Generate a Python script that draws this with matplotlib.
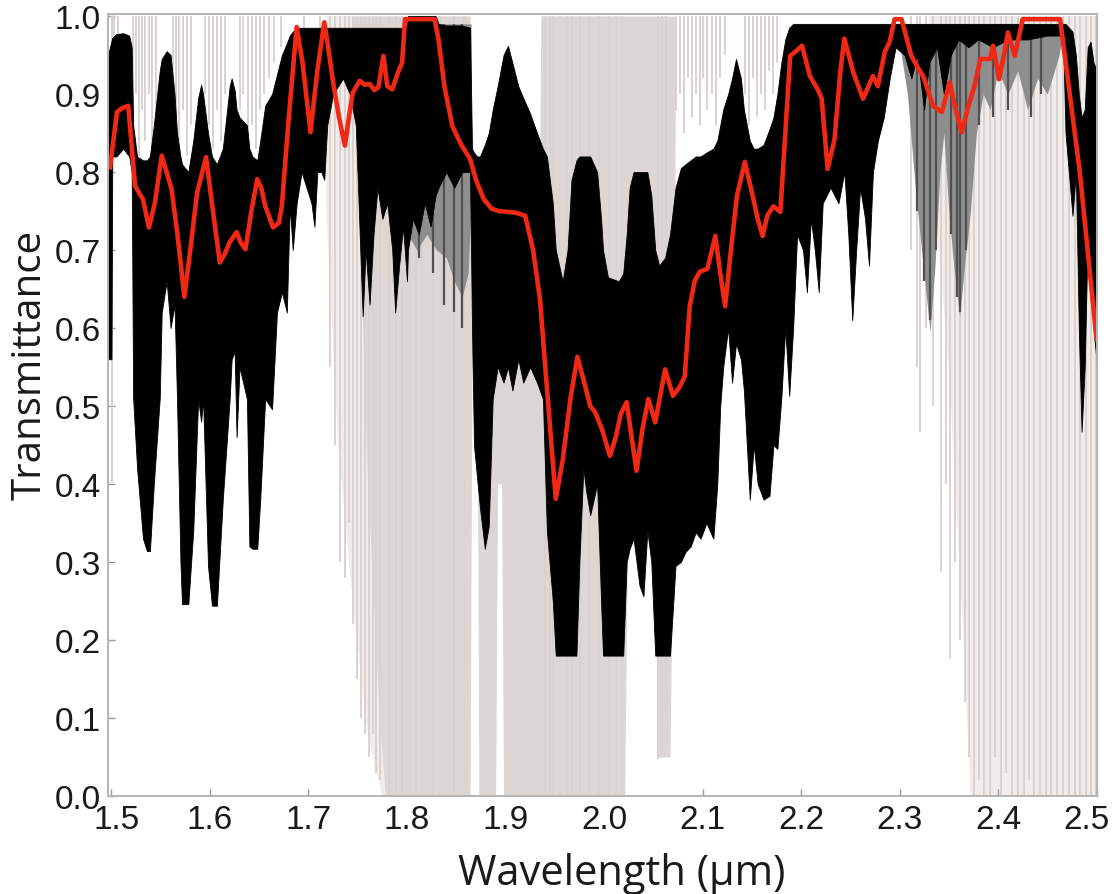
import numpy as np
import matplotlib
matplotlib.use("Agg")
import matplotlib.pyplot as plt
import matplotlib.transforms as mtransforms

# ---- red smoothed curve ----
red_wl = [1.4985, 1.5056, 1.511, 1.517, 1.524, 1.532, 1.538, 1.544, 1.551, 1.556,
          1.561, 1.567, 1.574, 1.580, 1.587, 1.596, 1.603, 1.610, 1.615, 1.620,
          1.627, 1.631, 1.636, 1.642, 1.648, 1.652, 1.656, 1.664, 1.670, 1.673,
          1.680, 1.688, 1.694, 1.702, 1.709, 1.716, 1.720, 1.725, 1.731, 1.737,
          1.741, 1.745, 1.752, 1.757, 1.762, 1.767, 1.771, 1.776, 1.780, 1.785,
          1.791, 1.795, 1.798, 1.828, 1.832, 1.838, 1.846, 1.855, 1.864, 1.870,
          1.878, 1.886, 1.893, 1.901, 1.910, 1.920, 1.928, 1.935, 1.941, 1.947,
          1.951, 1.958, 1.966, 1.973, 1.980, 1.986, 1.991, 1.998, 2.006, 2.012,
          2.017, 2.023, 2.028, 2.033, 2.039, 2.045, 2.052, 2.058, 2.062, 2.070,
          2.077, 2.082, 2.087, 2.092, 2.097, 2.105, 2.113, 2.118, 2.123, 2.128,
          2.135, 2.143, 2.151, 2.156, 2.161, 2.166, 2.172, 2.179, 2.184, 2.189,
          2.195, 2.201, 2.209, 2.217, 2.221, 2.227, 2.234, 2.240, 2.244, 2.253,
          2.263, 2.273, 2.278, 2.285, 2.290, 2.295, 2.302, 2.312, 2.318, 2.324,
          2.334, 2.343, 2.351, 2.357, 2.363, 2.370, 2.376, 2.382, 2.392, 2.395,
          2.401, 2.406, 2.410, 2.417, 2.425, 2.463, 2.476, 2.483, 2.500]
red_t = [0.806, 0.877, 0.882, 0.885, 0.782, 0.765, 0.729, 0.760, 0.821, 0.800,
         0.778, 0.720, 0.640, 0.700, 0.774, 0.819, 0.750, 0.684, 0.695, 0.710,
         0.723, 0.710, 0.701, 0.750, 0.791, 0.780, 0.757, 0.729, 0.735, 0.757,
         0.870, 0.986, 0.940, 0.851, 0.930, 0.992, 0.960, 0.915, 0.870, 0.834,
         0.870, 0.902, 0.917, 0.912, 0.913, 0.905, 0.909, 0.949, 0.910, 0.906,
         0.928, 0.940, 0.996, 0.996, 0.970, 0.910, 0.859, 0.835, 0.817, 0.790,
         0.765, 0.753, 0.750, 0.749, 0.748, 0.744, 0.700, 0.637, 0.540, 0.445,
         0.381, 0.430, 0.510, 0.563, 0.530, 0.500, 0.492, 0.470, 0.436, 0.460,
         0.490, 0.505, 0.460, 0.417, 0.470, 0.509, 0.479, 0.520, 0.547, 0.513,
         0.525, 0.538, 0.628, 0.660, 0.672, 0.676, 0.718, 0.670, 0.628, 0.690,
         0.770, 0.813, 0.769, 0.740, 0.718, 0.745, 0.756, 0.749, 0.850, 0.949,
         0.955, 0.962, 0.923, 0.906, 0.894, 0.804, 0.842, 0.930, 0.971, 0.928,
         0.894, 0.923, 0.910, 0.954, 0.967, 0.996, 0.996, 0.949, 0.935, 0.923,
         0.885, 0.877, 0.915, 0.880, 0.851, 0.885, 0.910, 0.945, 0.945, 0.962,
         0.919, 0.950, 0.979, 0.949, 0.996, 0.996, 0.868, 0.800, 0.586]

# ---- black band (high resolution spectrum envelope) ----
blk_wl = [1.4965, 1.500, 1.5008, 1.505, 1.512, 1.518, 1.5205, 1.522, 1.526, 1.532,
          1.536, 1.539, 1.543, 1.549, 1.551, 1.556, 1.560, 1.564, 1.5665, 1.570,
          1.5716, 1.578, 1.583, 1.588, 1.591, 1.593, 1.598, 1.602, 1.607, 1.613,
          1.620, 1.622, 1.625, 1.627, 1.630, 1.6375, 1.640, 1.643, 1.648, 1.651,
          1.656, 1.663, 1.668, 1.673, 1.678, 1.681, 1.684, 1.688, 1.693, 1.698,
          1.703, 1.706, 1.709, 1.713, 1.716, 1.719, 1.725, 1.735, 1.742, 1.748,
          1.752, 1.755, 1.758, 1.762, 1.766, 1.770, 1.775, 1.780, 1.785, 1.788,
          1.792, 1.796, 1.800, 1.801, 1.806, 1.812, 1.818, 1.824, 1.829, 1.832,
          1.840, 1.848, 1.856, 1.864, 1.866, 1.868, 1.871, 1.874, 1.879, 1.883,
          1.887, 1.892, 1.898, 1.9025, 1.907, 1.913, 1.918, 1.925, 1.932, 1.938,
          1.942, 1.948, 1.951, 1.958, 1.963, 1.967, 1.972, 1.975, 1.979, 1.982,
          1.986, 1.993, 1.997, 1.999, 2.004, 2.015, 2.0195, 2.023, 2.026, 2.030,
          2.036, 2.040, 2.044, 2.048, 2.052, 2.056, 2.062, 2.067, 2.0726, 2.078,
          2.0827, 2.088, 2.093, 2.098, 2.104, 2.111, 2.115, 2.118, 2.121, 2.126,
          2.130, 2.134, 2.139, 2.142, 2.145, 2.148, 2.152, 2.156, 2.162, 2.168,
          2.172, 2.176, 2.180, 2.184, 2.188, 2.192, 2.196, 2.202, 2.206, 2.210,
          2.214, 2.218, 2.222, 2.230, 2.238, 2.244, 2.248, 2.252, 2.256, 2.260,
          2.265, 2.269, 2.273, 2.278, 2.284, 2.290, 2.296, 2.305, 2.312, 2.318,
          2.325, 2.330, 2.338, 2.345, 2.352, 2.360, 2.370, 2.380, 2.395, 2.410,
          2.430, 2.450, 2.466, 2.4685, 2.4756, 2.479, 2.482, 2.4848, 2.488, 2.491,
          2.494, 2.497, 2.5005]
blk_low = [0.56, 0.56, 0.82, 0.82, 0.83, 0.82, 0.80, 0.51, 0.42, 0.33,
           0.314, 0.314, 0.40, 0.51, 0.62, 0.66, 0.60, 0.63, 0.51, 0.30,
           0.246, 0.246, 0.34, 0.509, 0.48, 0.509, 0.295, 0.244, 0.244, 0.38,
           0.509, 0.56, 0.57, 0.46, 0.55, 0.509, 0.32, 0.317, 0.317, 0.38,
           0.509, 0.496, 0.62, 0.646, 0.62, 0.757, 0.70, 0.76, 0.80, 0.78,
           0.76, 0.73, 0.80, 0.80, 0.79, 0.86, 0.90, 0.92, 0.90, 0.86,
           0.72, 0.615, 0.70, 0.63, 0.72, 0.78, 0.74, 0.76, 0.70, 0.62,
           0.68, 0.73, 0.66, 0.70, 0.74, 0.72, 0.76, 0.73, 0.77, 0.78,
           0.80, 0.78, 0.80, 0.80, 0.60, 0.45, 0.41, 0.37, 0.317, 0.346,
           0.509, 0.55, 0.53, 0.55, 0.52, 0.56, 0.53, 0.55, 0.53, 0.509,
           0.34, 0.25, 0.18, 0.18, 0.18, 0.18, 0.18, 0.30, 0.42, 0.39,
           0.36, 0.40, 0.25, 0.18, 0.18, 0.18, 0.18, 0.30, 0.317, 0.33,
           0.27, 0.256, 0.34, 0.30, 0.18, 0.18, 0.18, 0.18, 0.295, 0.30,
           0.313, 0.32, 0.338, 0.33, 0.35, 0.33, 0.40, 0.50, 0.55, 0.60,
           0.53, 0.58, 0.56, 0.52, 0.45, 0.38, 0.45, 0.40, 0.38, 0.385,
           0.45, 0.445, 0.51, 0.60, 0.513, 0.60, 0.72, 0.70, 0.646, 0.74,
           0.70, 0.646, 0.76, 0.78, 0.76, 0.80, 0.72, 0.61, 0.70, 0.78,
           0.74, 0.68, 0.80, 0.84, 0.87, 0.92, 0.96, 0.95, 0.92, 0.95,
           0.88, 0.94, 0.96, 0.90, 0.95, 0.97, 0.96, 0.97, 0.96, 0.97,
           0.97, 0.975, 0.975, 0.85, 0.744, 0.80, 0.60, 0.467, 0.55, 0.72,
           0.68, 0.60, 0.55]
blk_top = [0.95, 0.968, 0.972, 0.977, 0.978, 0.975, 0.96, 0.86, 0.82, 0.815,
           0.815, 0.82, 0.86, 0.93, 0.945, 0.955, 0.95, 0.90, 0.85, 0.82,
           0.81, 0.80, 0.84, 0.895, 0.912, 0.90, 0.85, 0.82, 0.81, 0.83,
           0.91, 0.92, 0.905, 0.88, 0.87, 0.86, 0.83, 0.82, 0.815, 0.84,
           0.885, 0.90, 0.925, 0.95, 0.965, 0.975, 0.98, 0.985, 0.985, 0.985,
           0.985, 0.985, 0.985, 0.985, 0.985, 0.985, 0.985, 0.985, 0.985, 0.985,
           0.985, 0.985, 0.985, 0.985, 0.985, 0.985, 0.985, 0.985, 0.985, 0.985,
           0.985, 0.985, 0.988, 1.0, 1.0, 1.0, 1.0, 1.0, 1.0, 0.99,
           0.988, 0.988, 0.988, 0.985, 0.83, 0.825, 0.82, 0.82, 0.835, 0.85,
           0.88, 0.91, 0.95, 0.962, 0.94, 0.91, 0.895, 0.875, 0.85, 0.83,
           0.82, 0.76, 0.70, 0.66, 0.70, 0.79, 0.815, 0.82, 0.82, 0.82,
           0.82, 0.80, 0.74, 0.70, 0.665, 0.66, 0.67, 0.72, 0.78, 0.80,
           0.80, 0.80, 0.80, 0.77, 0.70, 0.68, 0.69, 0.72, 0.78, 0.805,
           0.81, 0.815, 0.82, 0.82, 0.825, 0.83, 0.84, 0.86, 0.88, 0.90,
           0.92, 0.945, 0.92, 0.88, 0.86, 0.84, 0.83, 0.83, 0.835, 0.855,
           0.87, 0.90, 0.94, 0.97, 0.985, 0.99, 0.99, 0.99, 0.99, 0.99,
           0.99, 0.99, 0.99, 0.99, 0.99, 0.99, 0.99, 0.99, 0.99, 0.99,
           0.99, 0.99, 0.99, 0.99, 0.99, 0.99, 0.99, 0.99, 0.99, 0.99,
           0.99, 0.99, 0.99, 0.99, 0.99, 0.99, 0.99, 0.99, 0.99, 0.99,
           0.99, 0.99, 0.99, 0.99, 0.98, 0.95, 0.90, 0.87, 0.88, 0.96,
           0.967, 0.94, 0.93]

# ---- mid grey bands (partly resolved), two separate groups ----
mid1_wl = [1.801, 1.810, 1.820, 1.830, 1.840, 1.848, 1.856, 1.862, 1.865]
mid1_low = [0.72, 0.70, 0.72, 0.70, 0.69, 0.66, 0.64, 0.67, 0.75]
mid2_wl = [2.298, 2.308, 2.316, 2.324, 2.331, 2.336, 2.341, 2.345, 2.350, 2.355,
           2.361, 2.366, 2.372, 2.378, 2.385, 2.392, 2.400, 2.410, 2.420, 2.430,
           2.440, 2.450, 2.462, 2.466]
mid2_low = [0.98, 0.90, 0.78, 0.68, 0.595, 0.68, 0.80, 0.85, 0.75, 0.68,
            0.615, 0.68, 0.75, 0.85, 0.90, 0.88, 0.93, 0.90, 0.93, 0.88,
            0.92, 0.90, 0.95, 0.98]

dg_wl = [1.812, 1.826, 1.838, 1.848, 1.856,
         2.318, 2.325, 2.331, 2.337, 2.352, 2.358, 2.361, 2.367, 2.381, 2.395,
         2.410, 2.433, 2.444]
dg_low = [0.69, 0.67, 0.63, 0.62, 0.60,
          0.75, 0.66, 0.61, 0.70, 0.72, 0.64, 0.62, 0.70, 0.86, 0.87,
          0.88, 0.87, 0.90]

# ---- light grey spectrum (higher resolution, saturated lines) ----
pale_wl = [1.700, 1.718, 1.730, 1.745, 1.760, 1.775, 1.864, 1.865, 1.935, 1.936,
           2.021, 2.022, 2.300, 2.330, 2.350, 2.365, 2.372, 2.5005]
pale_low = [1.0, 0.75, 0.45, 0.25, 0.08, 0.0, 0.0, 1.0, 1.0, 0.0,
            0.0, 1.0, 1.0, 0.85, 0.55, 0.20, 0.0, 0.0]

grey_wl = [1.745, 1.760, 1.772, 1.778, 1.864, 1.866, 1.871, 1.873, 1.890, 1.892,
           1.896, 1.898, 1.933, 1.936, 2.021, 2.024, 2.052, 2.054, 2.067, 2.070,
           2.073]
grey_low = [1.0, 0.40, 0.10, 0.0, 0.0, 0.55, 0.55, 0.0, 0.0, 0.40,
            0.40, 0.0, 0.0, 0.0, 0.0, 0.35, 0.35, 0.05, 0.05, 0.35,
            1.0]
grey_high = [1.0, 1.0, 1.0, 1.0, 1.0, 0.6, 0.6, 0.6, 0.6, 0.6,
             0.6, 0.6, 0.6, 1.0, 1.0, 1.0, 1.0, 1.0, 1.0, 1.0,
             1.0]

line_wl = [1.501, 1.503, 1.507, 1.522, 1.525, 1.528, 1.531, 1.534, 1.538, 1.541,
           1.545, 1.562, 1.566, 1.569, 1.573, 1.577, 1.581, 1.595, 1.599, 1.603,
           1.607, 1.611, 1.615, 1.630, 1.634, 1.639, 1.643, 1.647, 1.651, 1.655,
           1.660, 1.665, 1.672, 1.695, 1.712,
           1.722, 1.727, 1.732, 1.737, 1.741, 1.745, 1.749, 1.753, 1.757, 1.761,
           1.765, 1.769, 1.773,
           1.782, 1.789, 1.795, 1.803, 1.809, 1.815, 1.826, 1.834, 1.848, 1.858,
           1.940, 1.948, 1.968, 1.976, 1.945, 1.955, 1.962, 1.985, 1.995, 2.005,
           2.012, 2.018, 2.055, 2.059, 2.063,
           2.073, 2.077, 2.081, 2.085, 2.089, 2.093, 2.097, 2.101, 2.105, 2.110,
           2.114, 2.118, 2.123, 2.143, 2.147, 2.151, 2.155, 2.159, 2.163, 2.167,
           2.172, 2.176,
           2.312, 2.318, 2.321, 2.327, 2.334, 2.342, 2.347, 2.351, 2.356, 2.361,
           2.366, 2.371, 2.376, 2.381, 2.386, 2.392, 2.397, 2.403, 2.408, 2.414,
           2.420, 2.426, 2.431, 2.437, 2.443, 2.449, 2.454, 2.460, 2.466, 2.472,
           2.478, 2.483, 2.489, 2.494, 2.499]
line_low = [0.40, 0.93, 0.96, 0.85, 0.90, 0.82, 0.88, 0.84, 0.90, 0.83,
            0.88, 0.92, 0.86, 0.83, 0.88, 0.82, 0.86, 0.90, 0.86, 0.83,
            0.88, 0.84, 0.90, 0.88, 0.90, 0.84, 0.86, 0.83, 0.88, 0.90,
            0.92, 0.94, 0.96, 0.90, 0.80,
            0.55, 0.45, 0.30, 0.28, 0.35, 0.22, 0.15, 0.10, 0.08, 0.05,
            0.08, 0.03, 0.02,
            0.0, 0.0, 0.0, 0.0, 0.0, 0.0, 0.0, 0.0, 0.0, 0.0,
            0.0, 0.0, 0.0, 0.0, 0.0, 0.0, 0.0, 0.0, 0.0, 0.0,
            0.0, 0.0, 0.047, 0.06, 0.10,
            0.88, 0.90, 0.85, 0.92, 0.87, 0.90, 0.86, 0.92, 0.88, 0.90,
            0.86, 0.92, 0.95, 0.90, 0.86, 0.92, 0.87, 0.90, 0.88, 0.93,
            0.90, 0.94,
            0.70, 0.55, 0.467, 0.60, 0.50, 0.287, 0.40, 0.176, 0.30, 0.20,
            0.12, 0.05, 0.0, 0.02, 0.0, 0.0, 0.05, 0.0, 0.03, 0.0,
            0.0, 0.0, 0.02, 0.0, 0.0, 0.0, 0.0, 0.0, 0.0, 0.0,
            0.0, 0.0, 0.0, 0.0, 0.0]

x_ticks = [1.5, 1.6, 1.7, 1.8, 1.9, 2.0, 2.1, 2.2, 2.3, 2.4, 2.5]
y_ticks = [0.0, 0.1, 0.2, 0.3, 0.4, 0.5, 0.6, 0.7, 0.8, 0.9, 1.0]


fig = plt.figure(figsize=(11.16, 8.95), dpi=100)
ax = fig.add_axes([0.0968, 0.1095, 0.8862, 0.8737])

# light grey spectrum
ax.fill_between(pale_wl, pale_low, 1.0, where=np.array(pale_low) < 1.0,
                color='#efecea', lw=0, zorder=1)
ax.fill_between(grey_wl, grey_low, grey_high, color='#dcd7d5', lw=0, zorder=2)
ax.vlines(line_wl, line_low, 1.0, color='#d8d3d1', lw=1.4, zorder=3)

# mid / dark grey bands (under the black)
ax.fill_between(mid1_wl, mid1_low, 0.99, color='#8e8e8e', lw=0, zorder=3.5)
ax.fill_between(mid2_wl, mid2_low, 0.99, color='#8e8e8e', lw=0, zorder=3.5)
ax.vlines(dg_wl, dg_low, 0.99, color='#505050', lw=1.6, zorder=3.6)

# black band
ax.fill_between(blk_wl, blk_low, blk_top, color='black', lw=0.6,
                edgecolor='black', zorder=4)

# smoothed curve
ax.plot(red_wl, red_t, color='#f02814', lw=3.3, zorder=6, solid_joinstyle='round')

ax.set_xlim(1.4965, 2.5005)
ax.set_ylim(0, 1.0026)
ax.set_xticks(x_ticks)
ax.set_yticks(y_ticks)
ax.set_xticklabels([f'{v:.1f}' for v in x_ticks])
ax.set_yticklabels([f'{v:.1f}' for v in y_ticks])
ax.tick_params(direction='in', length=5, width=1, color='#9a9a9a',
               labelsize=24, labelcolor='#1a1a1a', pad=6)
ax.tick_params(axis='y', pad=5)
for lab in ax.get_xticklabels() + ax.get_yticklabels():
    lab.set_family('Liberation Sans')

# first and last x labels sit slightly inwards, as in the original
xl = ax.get_xticklabels()
xl[0].set_transform(xl[0].get_transform() +
                    mtransforms.ScaledTranslation(5 / 100, 0, fig.dpi_scale_trans))
xl[-1].set_transform(xl[-1].get_transform() +
                     mtransforms.ScaledTranslation(-10 / 100, 0, fig.dpi_scale_trans))

for sp in ax.spines.values():
    sp.set_color('#b4b4b4')
    sp.set_linewidth(1.4)
    sp.set_zorder(7)

ax.set_xlabel('Wavelength (µm)', fontsize=30, family='Open Sans', color='#1a1a1a')
ax.set_ylabel('Transmittance', fontsize=29, family='Open Sans', color='#1a1a1a')
ax.xaxis.set_label_coords(0.519, -0.071)
ax.yaxis.set_label_coords(-0.058, 0.553)

fig.savefig('out.png', dpi=100)
